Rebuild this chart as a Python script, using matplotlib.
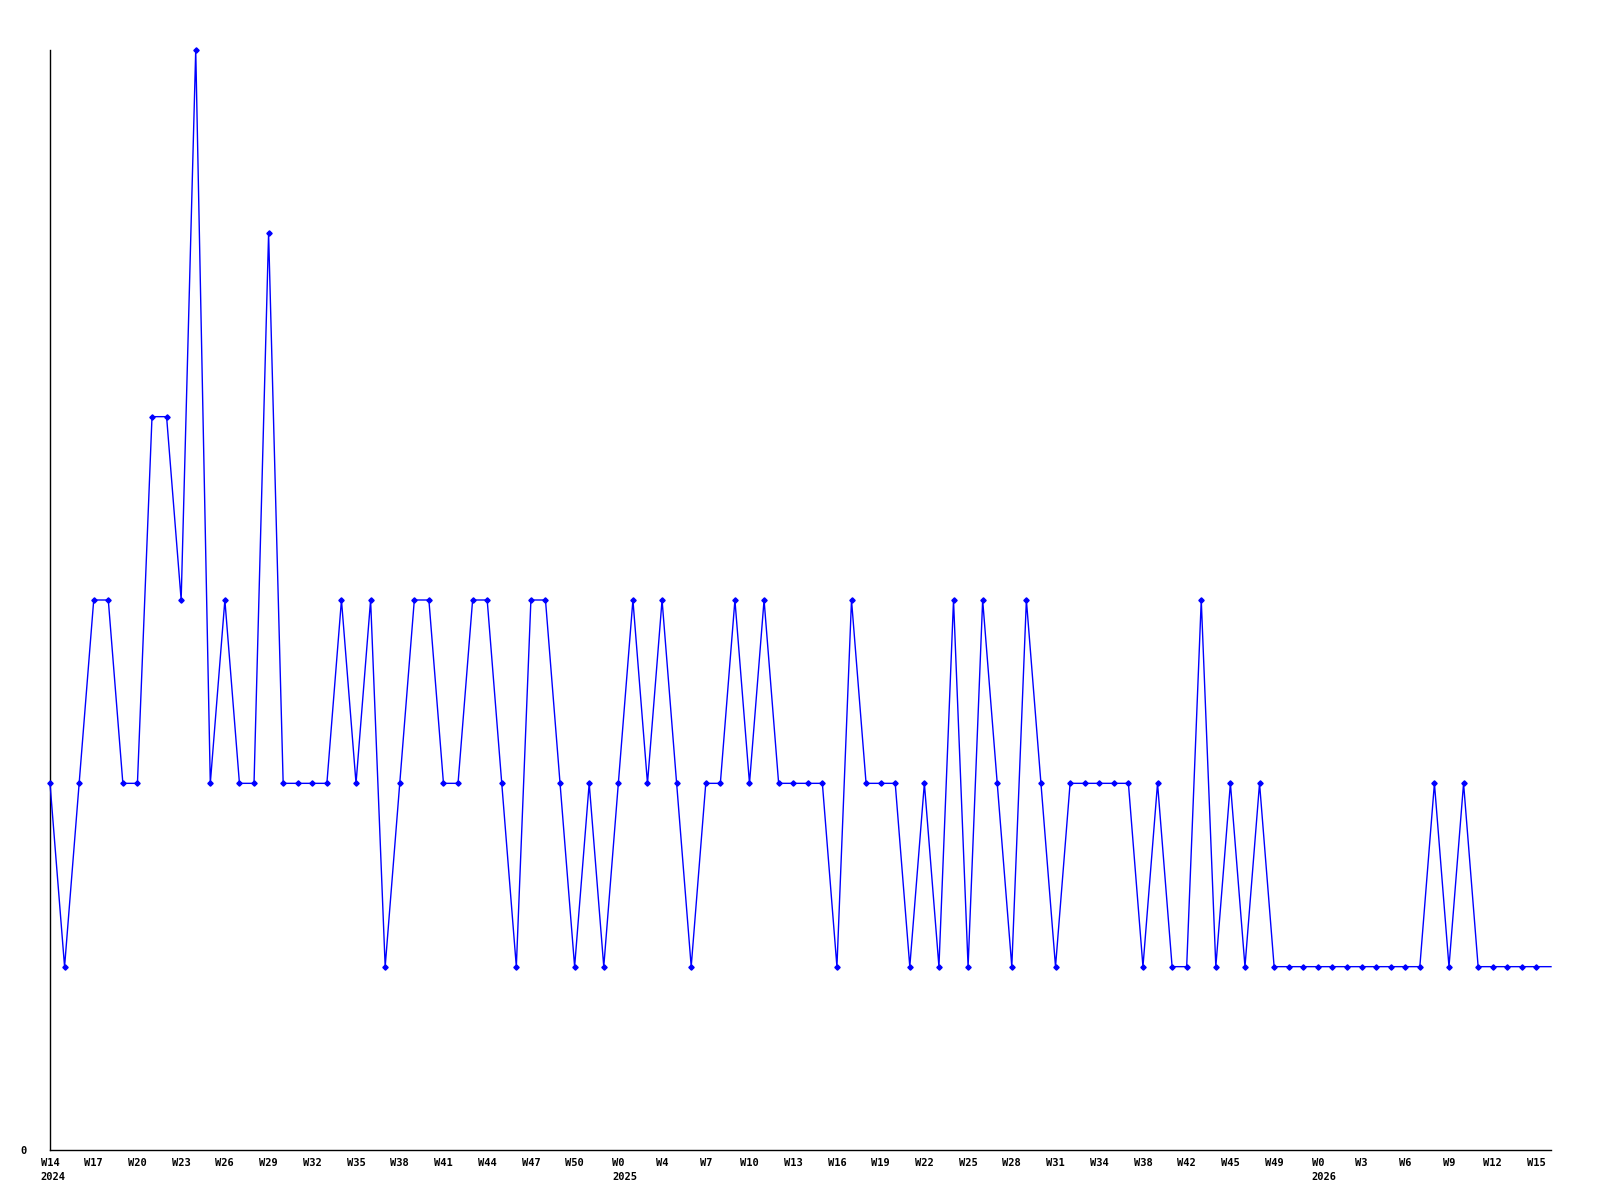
import matplotlib
matplotlib.use("Agg")
import matplotlib.pyplot as plt

# weekly counts, starting at W14 2024
values = [2, 1, 2, 3, 3, 2, 2, 4, 4, 3,
          6, 2, 3, 2, 2, 5, 2, 2, 2, 2,
          3, 2, 3, 1, 2, 3, 3, 2, 2, 3,
          3, 2, 1, 3, 3, 2, 1, 2, 1, 2,
          3, 2, 3, 2, 1, 2, 2, 3, 2, 3,
          2, 2, 2, 2, 1, 3, 2, 2, 2, 1,
          2, 1, 3, 1, 3, 2, 1, 3, 2, 1,
          2, 2, 2, 2, 2, 1, 2, 1, 1, 3,
          1, 2, 1, 2, 1, 1, 1, 1, 1, 1,
          1, 1, 1, 1, 1, 2, 1, 2, 1, 1,
          1, 1, 1, 1]

week_labels = ["W14", "W17", "W20", "W23", "W26", "W29", "W32", "W35", "W38",
               "W41", "W44", "W47", "W50", "W0", "W4", "W7", "W10", "W13",
               "W16", "W19", "W22", "W25", "W28", "W31", "W34", "W38", "W42",
               "W45", "W49", "W0", "W3", "W6", "W9", "W12", "W15"]
tick_step = 3
year_labels = ["2024", "2025", "2026"]
year_tick_labels = ["W14", "W0", "W0"]
year_positions = [0, 39, 87]

fig = plt.figure(figsize=(16, 12), dpi=100)
ax = fig.add_axes([50 / 1600, 50 / 1200, 1501 / 1600, 1100 / 1200])

x = list(range(len(values)))
n_marked = len(values) - 1
ax.plot(x, values, color="#0000ff", lw=1.0, zorder=3, clip_on=False)
ax.plot(x[:n_marked], values[:n_marked], ls="none", marker="D", ms=2.7,
        color="#0000ff", zorder=4, clip_on=False)

ax.set_xlim(0, len(values) - 1)
ax.set_ylim(0, max(values))

for s in ["top", "right"]:
    ax.spines[s].set_visible(False)
for s in ["left", "bottom"]:
    ax.spines[s].set_color("black")
    ax.spines[s].set_linewidth(1.0)

font = dict(family="DejaVu Sans Mono", weight="bold", size=7.5)

ticks = list(range(0, tick_step * len(week_labels), tick_step))
ax.set_xticks(ticks)
ax.set_xticklabels(week_labels, **font)
ax.set_yticks([0])
ax.set_yticklabels(["0"], **font)
ax.tick_params(axis="x", length=0, pad=6)
ax.tick_params(axis="y", length=0, pad=17)

char_w = 6.3
for yl, wl, pos in zip(year_labels, year_tick_labels, year_positions):
    ax.annotate(yl, xy=(pos, 0), xycoords=("data", "axes fraction"),
                xytext=(-len(wl) * char_w / 2, -27), textcoords="offset pixels",
                ha="left", va="center", annotation_clip=False, **font)

fig.savefig("out.png", dpi=100, facecolor="white")
